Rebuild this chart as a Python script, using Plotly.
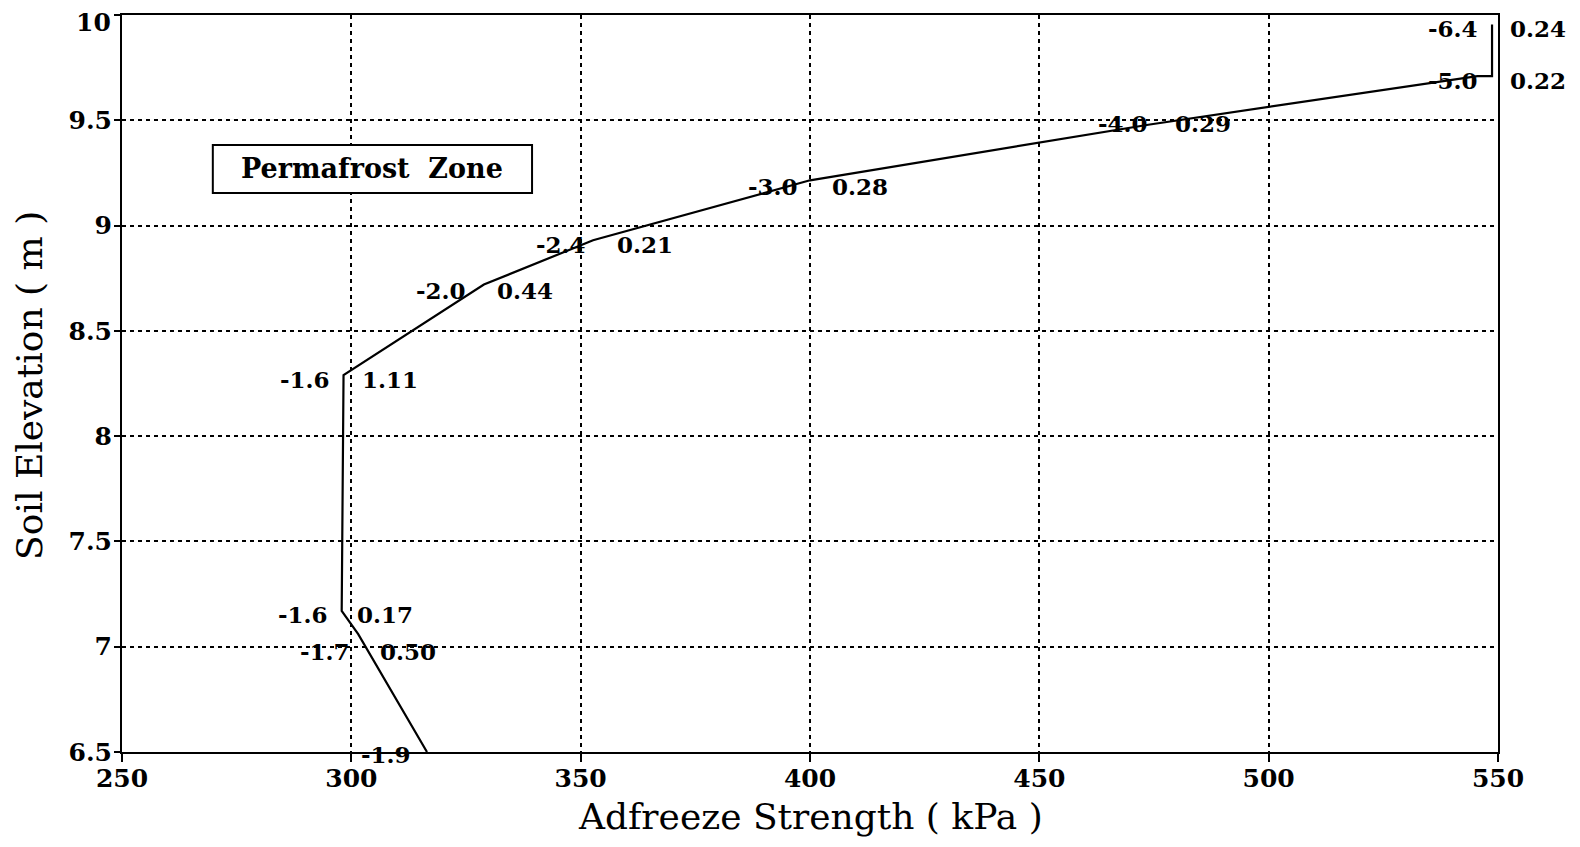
import plotly.graph_objects as go

# Curve: adfreeze strength (kPa) vs soil elevation (m)
strength = [316.5, 301.5, 297.9, 298.3, 328.9, 352.7, 400.0, 474.1, 545.5, 548.7, 548.7]
elevation = [6.5, 7.06, 7.17, 8.29, 8.72, 8.93, 9.215, 9.48, 9.71, 9.71, 9.955]

# Point labels: temperature (left) and ratio (right)
temp_labels = ["-6.4", "-5.0", "-4.0", "-3.0", "-2.4", "-2.0", "-1.6", "-1.6", "-1.7"]
temp_x = [546.1, 546.1, 474.1, 397.8, 351.6, 325.4, 295.8, 295.3, 300.1]
ratio_labels = ["0.24", "0.22", "0.29", "0.28", "0.21", "0.44", "1.11", "0.17", "0.50"]
ratio_x = [552.2, 552.2, 479.1, 404.3, 357.5, 331.3, 301.9, 300.8, 305.8]
label_y = [9.934, 9.69, 9.487, 9.186, 8.908, 8.694, 8.267, 7.151, 6.975]
bottom_label = "-1.9"
bottom_label_x = 307.5
bottom_label_y = 6.49

x_ticks = [250, 300, 350, 400, 450, 500, 550]
y_ticks = [6.5, 7, 7.5, 8, 8.5, 9, 9.5, 10]
y_tick_text = ["6.5", "7", "7.5", "8", "8.5", "9", "9.5", "10"]

X_RANGE = [250, 550]
Y_RANGE = [6.5, 10]


def px(x):
    return (x - X_RANGE[0]) / (X_RANGE[1] - X_RANGE[0])


def py(y):
    return (y - Y_RANGE[0]) / (Y_RANGE[1] - Y_RANGE[0])


FONT = "DejaVu Serif"
lab_font = dict(family=FONT, size=23, color="black", weight="bold")
tick_font = dict(family=FONT, size=25, color="black", weight="bold")

fig = go.Figure()
fig.add_trace(go.Scatter(x=strength, y=elevation, mode="lines",
                         line=dict(color="black", width=2.2), showlegend=False,
                         cliponaxis=False))

ann = []
for t, tx, r, rx, ly in zip(temp_labels, temp_x, ratio_labels, ratio_x, label_y):
    ann.append(dict(x=px(tx), y=py(ly), xref="paper", yref="paper", text=t, showarrow=False,
                    xanchor="right", yanchor="middle", font=lab_font))
    ann.append(dict(x=px(rx), y=py(ly), xref="paper", yref="paper", text=r, showarrow=False,
                    xanchor="left", yanchor="middle", font=lab_font))
ann.append(dict(x=px(bottom_label_x), y=py(bottom_label_y), xref="paper", yref="paper",
                text=bottom_label, showarrow=False, xanchor="center", yanchor="middle",
                font=lab_font))

# Top y tick label drawn as annotation so it is not clipped at the page top
ann.append(dict(x=0, y=py(y_ticks[-1]), xref="paper", yref="paper", text=y_tick_text[-1],
                showarrow=False, xanchor="right", yanchor="middle", xshift=-9, yshift=-7,
                font=tick_font))
axis_tick_text = y_tick_text[:-1] + [""]

# Permafrost Zone box
ann.append(dict(x=304.6, y=9.27, xref="x", yref="y", text="Permafrost  Zone", showarrow=False,
                xanchor="center", yanchor="middle",
                font=dict(family=FONT, size=27, color="black", weight="bold")))

# Axis titles
ann.append(dict(x=0.5, y=-0.087, xref="paper", yref="paper", text="Adfreeze Strength ( kPa )",
                showarrow=False, xanchor="center", yanchor="middle",
                font=dict(family=FONT, size=36, color="black")))
ann.append(dict(x=-0.0669, y=0.498, xref="paper", yref="paper", text="Soil Elevation ( m )",
                showarrow=False, xanchor="center", yanchor="middle", textangle=-90,
                font=dict(family=FONT, size=36, color="black")))

fig.update_layout(
    width=1564, height=831,
    margin=dict(l=114, r=74, t=7, b=87, autoexpand=False),
    paper_bgcolor="white", plot_bgcolor="white",
    annotations=ann,
    shapes=[dict(type="rect", xref="x", yref="y", x0=269.8, x1=339.4, y0=9.155, y1=9.383,
                 line=dict(color="black", width=2), fillcolor="white", layer="above")],
)
axis_common = dict(showline=True, linecolor="black", linewidth=2, mirror=True,
                   showgrid=True, gridcolor="black", gridwidth=2, griddash="4px,4px",
                   ticks="outside", tickcolor="black", tickwidth=2, zeroline=False,
                   automargin=False, ticklabeloverflow="allow", tickfont=tick_font)
fig.update_xaxes(range=X_RANGE, tickvals=x_ticks, ticklen=8, ticklabelstandoff=-5, **axis_common)
fig.update_yaxes(range=Y_RANGE, tickvals=y_ticks, ticktext=axis_tick_text, ticklen=6,
                 ticklabelstandoff=-3, **axis_common)

fig.write_html("out.html")
